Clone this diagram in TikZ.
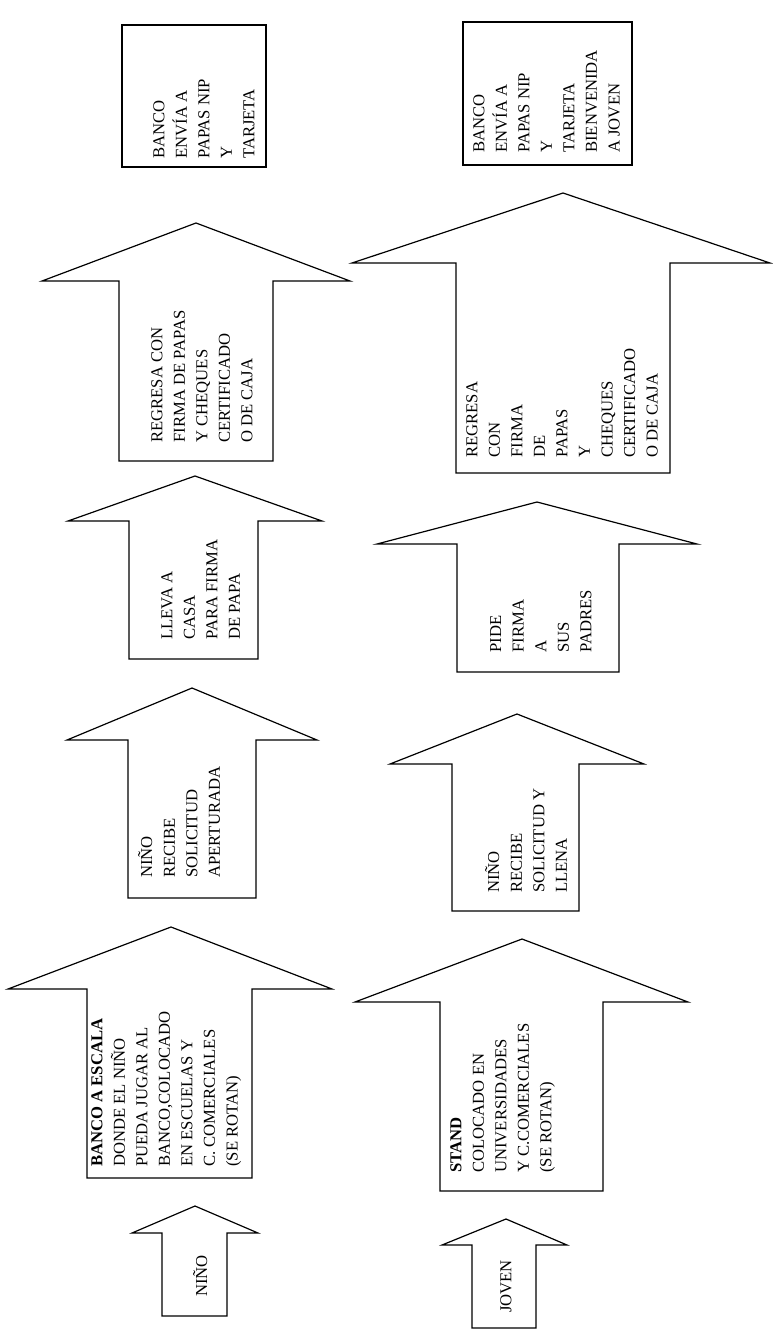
\documentclass[tikz,border=0pt]{standalone}
\usepackage{fontspec}
\setmainfont{Liberation Serif}
\usepackage{tikz}

\begin{document}
\begin{tikzpicture}[x=0.75pt,y=0.75pt,yscale=-1,xscale=1,
  blockarrow/.style={line width=0.9pt,line join=miter},
  lbl/.style={anchor=north west,inner sep=0.75pt,rotate=90,align=left,
    font=\fontsize{12.5}{16.9}\selectfont}]
        \useasboundingbox (0,0) rectangle (772,1330);
        %%% left column (NINO)
        %Shape: Up Arrow [id:nino]
        \draw [blockarrow] (162,1316) -- (162,1233) -- (132,1233) -- (195,1206) -- (258,1233) -- (227,1233) -- (227,1316) -- cycle ;
        %Shape: Up Arrow [id:escala]
        \draw [blockarrow] (87,1178) -- (87,989) -- (8,989) -- (171,927) -- (332,989) -- (252,989) -- (252,1178) -- cycle ;
        %Shape: Up Arrow [id:recibe]
        \draw [blockarrow] (128,898) -- (128,740) -- (67,740) -- (192,688) -- (317,740) -- (256,740) -- (256,898) -- cycle ;
        %Shape: Up Arrow [id:lleva]
        \draw [blockarrow] (129,659) -- (129,521) -- (68,521) -- (195,476) -- (322,521) -- (258,521) -- (258,659) -- cycle ;
        %Shape: Up Arrow [id:regresa]
        \draw [blockarrow] (119,461) -- (119,281) -- (42,281) -- (196,223) -- (350,281) -- (273,281) -- (273,461) -- cycle ;
        %Shape: Rectangle [id:envia]
        \draw [blockarrow] (122,25) rectangle (266,167) ;
        %%% right column (JOVEN)
        %Shape: Up Arrow [id:joven]
        \draw [blockarrow] (472,1328) -- (472,1245) -- (442,1245) -- (506,1219) -- (567,1245) -- (536,1245) -- (536,1328) -- cycle ;
        %Shape: Up Arrow [id:stand]
        \draw [blockarrow] (440,1191) -- (440,1002) -- (355,1002) -- (522,939) -- (688,1002) -- (603,1002) -- (603,1191) -- cycle ;
        %Shape: Up Arrow [id:recibey]
        \draw [blockarrow] (452,911) -- (452,764) -- (390,764) -- (517,714) -- (644,764) -- (579,764) -- (579,911) -- cycle ;
        %Shape: Up Arrow [id:pide]
        \draw [blockarrow] (457,672) -- (457,544) -- (377,544) -- (537,502) -- (697,544) -- (619,544) -- (619,672) -- cycle ;
        %Shape: Up Arrow [id:regresab]
        \draw [blockarrow] (456,473) -- (456,263) -- (352,263) -- (563,193) -- (770,263) -- (670,263) -- (670,473) -- cycle ;
        %Shape: Rectangle [id:enviab]
        \draw [blockarrow] (463,22) rectangle (632,165) ;
        % Text Node
        \draw (192,1298) node [lbl] (nino) {NIÑO};
        % Text Node
        \draw (90,1168) node [lbl] (escala) {\textbf{BANCO A ESCALA}\\DONDE EL NIÑO\\PUEDA JUGAR AL\\BANCO,COLOCADO\\EN ESCUELAS Y\\C. COMERCIALES\\(SE ROTAN)};
        % Text Node
        \draw (137,879) node [lbl] (recibe) {NIÑO\\RECIBE\\SOLICITUD\\APERTURADA};
        % Text Node
        \draw (160,641) node [lbl] (lleva) {LLEVA A\\CASA\\PARA FIRMA\\DE PAPA};
        % Text Node
        \draw (150,444) node [lbl] (regresa) {REGRESA CON\\FIRMA DE PAPAS\\Y CHEQUES\\CERTIFICADO\\O DE CAJA};
        % Text Node
        \draw (152,160) node [lbl] (envia) {BANCO\\ENVÍA A\\PAPAS NIP\\Y\\TARJETA};
        % Text Node
        \draw (499,1314) node [lbl] (joven) {JOVEN};
        % Text Node
        \draw (449,1174) node [lbl] (stand) {\textbf{STAND}\\COLOCADO EN\\UNIVERSIDADES\\Y C.COMERCIALES\\(SE ROTAN)};
        % Text Node
        \draw (484,894) node [lbl] (recibey) {NIÑO\\RECIBE\\SOLICITUD Y\\LLENA};
        % Text Node
        \draw (489,654) node [lbl] (pide) {PIDE\\FIRMA\\A\\SUS\\PADRES};
        % Text Node
        \draw (465,459) node [lbl] (regresab) {REGRESA\\CON\\FIRMA\\DE\\PAPAS\\Y\\CHEQUES\\CERTIFICADO\\O DE CAJA};
        % Text Node
        \draw (472,154) node [lbl] (enviab) {BANCO\\ENVÍA A\\PAPAS NIP\\Y\\TARJETA\\BIENVENIDA\\A JOVEN};
\end{tikzpicture}
\end{document}
